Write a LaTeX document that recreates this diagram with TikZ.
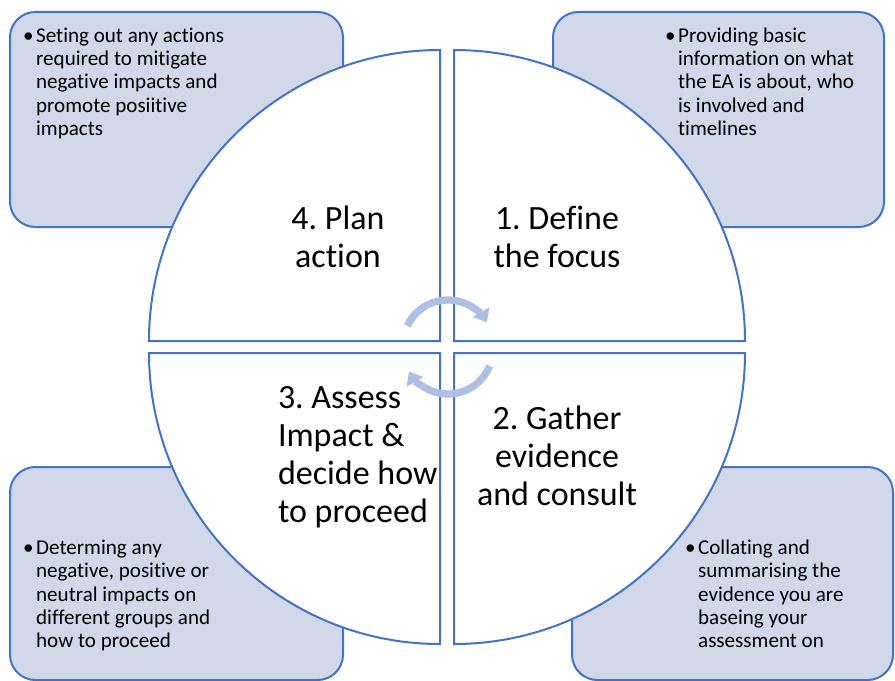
\documentclass[tikz,border=0pt]{standalone}
\usepackage{fontspec}
\setmainfont[Ligatures=NoCommon]{Carlito}
\frenchspacing
\usetikzlibrary{arrows.meta}
\definecolor{edgeblue}{RGB}{68,114,196}
\definecolor{notefill}{RGB}{209,216,234}
\definecolor{cyclecol}{RGB}{176,192,228}
\newcommand{\notetext}[1]{\fontsize{15.8}{17.5}\selectfont
  \begin{tabular}{@{}l@{\hspace{2pt}}l@{}}#1\end{tabular}}
\begin{document}
\begin{tikzpicture}[x=0.75pt, y=0.75pt, line width=1.5pt]
    \tikzset{
        notebox/.style={draw=edgeblue, fill=notefill, rounded corners=19pt},
        quarter/.style={draw=edgeblue, fill=white},
        note/.style={anchor=north west, inner sep=0pt, align=left},
        stage/.style={inner sep=0pt, font=\fontsize{25.5}{28.5}\selectfont},
        cycle/.style={draw=cyclecol, line width=5.5pt, -{Triangle[length=9pt,width=14pt]}}
    }
    \useasboundingbox (0,0) rectangle (895,-681);
    %boxes
    \draw[notebox] (10,-12) rectangle (343,-227);
    \draw[notebox] (553,-12) rectangle (884,-227);
    \draw[notebox] (10,-467) rectangle (343,-680);
    \draw[notebox] (572,-467) rectangle (893,-680);
    %circle
    \draw[quarter] (440,-341) -- (149,-341) arc[start angle=180, end angle=90, radius=291] -- cycle;
    \draw[quarter] (454,-341) -- (454,-50) arc[start angle=90, end angle=0, radius=291] -- cycle;
    \draw[quarter] (454,-353) -- (745,-353) arc[start angle=0, end angle=-90, radius=291] -- cycle;
    \draw[quarter] (440,-353) -- (440,-644) arc[start angle=-90, end angle=-180, radius=291] -- cycle;
    %cycle arrows
    \draw[cycle] (448,-345) ++(155:45) arc[start angle=155, end angle=30, radius=45];
    \draw[cycle] (448,-349) ++(-22:45) arc[start angle=-22, end angle=-150, radius=45];
    %texts
    \node[note] (plannote) at (22,-25) {\notetext{\textbullet & Seting out any actions\\
        & required to mitigate\\ & negative impacts and\\ & promote posiitive\\ & impacts}};
    \node[note] (definenote) at (664,-25) {\notetext{\textbullet & Providing basic\\
        & information on what\\ & the EA is about, who\\ & is involved and\\ & timelines}};
    \node[note] (assessnote) at (22,-537) {\notetext{\textbullet & Determing any\\
        & negative, positive or\\ & neutral impacts on\\ & different groups and\\ & how to proceed}};
    \node[note] (gathernote) at (684,-537) {\notetext{\textbullet & Collating and\\
        & summarising the\\ & evidence you are\\ & baseing your\\ & assessment on}};
    \node[stage, align=center] (plan) at (338,-237) {4. Plan\\action};
    \node[stage, align=center] (define) at (557,-237) {1. Define\\the focus};
    \node[stage, align=left, anchor=west] (assess) at (277,-457) {3. Assess\\Impact \&\\decide how\\to proceed};
    \node[stage, align=center] (gather) at (557,-456) {2. Gather\\evidence\\and consult};
\end{tikzpicture}
\end{document}
